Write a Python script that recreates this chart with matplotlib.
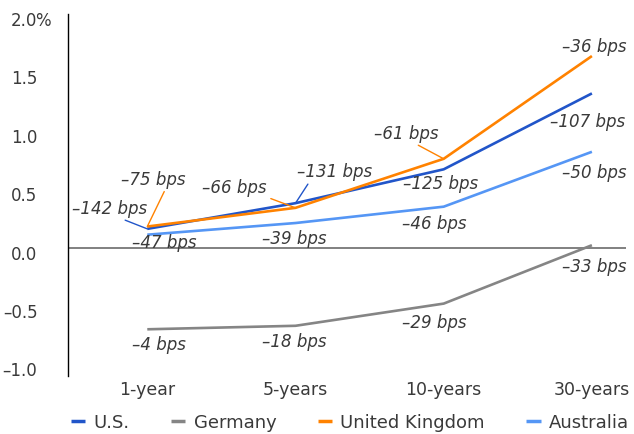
import numpy as np
import matplotlib
matplotlib.use('Agg')
import matplotlib.pyplot as plt
from matplotlib.transforms import ScaledTranslation

maturities = ['1-year', '5-years', '10-years', '30-years']

# yields (%)
us = [0.16, 0.38, 0.67, 1.32]
germany = [-0.70, -0.67, -0.48, 0.02]
uk = [0.18, 0.34, 0.76, 1.64]
australia = [0.11, 0.21, 0.35, 0.82]

# change labels (bps)
us_bps = [-142, -131, -125, -107]
germany_bps = [-4, -18, -29, -33]
uk_bps = [-75, -66, -61, -36]
australia_bps = [-47, -39, -46, -50]

y_ticks = [-1.0, -0.5, 0.0, 0.5, 1.0, 1.5, 2.0]

c_us = '#2155c9'
c_de = '#858585'
c_uk = '#ff8200'
c_au = '#5596f5'
txt = '#3a3a3a'

plt.rcParams['font.family'] = ['DejaVu Sans']

fig = plt.figure(figsize=(6.34, 4.35), dpi=100)
ax = fig.add_axes([68 / 634, 1 - 377 / 435, (626 - 68) / 634, (377 - 15) / 435])

x = np.arange(len(maturities))
series = [
    ('U.S.', us, us_bps, c_us),
    ('Germany', germany, germany_bps, c_de),
    ('United Kingdom', uk, uk_bps, c_uk),
    ('Australia', australia, australia_bps, c_au),
]
for name, vals, bps, col in series:
    ax.plot(x, vals, color=col, lw=1.9, label=name, solid_capstyle='butt')

ax.axhline(0, color='#808080', lw=1.4, zorder=1)

ax.set_xlim(-0.535, 3.23)
ax.set_ylim(-1.1, 2.0)
ax.set_xticks(x)
ax.set_xticklabels(maturities, fontsize=12.5, color=txt)
ax.set_yticks(y_ticks)
ax.set_yticklabels([('%.1f' % t).replace('-', '–') for t in y_ticks], fontsize=12, color=txt)
ax.tick_params(axis='both', length=0)
ax.tick_params(axis='x', pad=3)
ax.tick_params(axis='y', pad=22)
shift = ScaledTranslation(0, -4 / 100, fig.dpi_scale_trans)
for lab in ax.get_yticklabels():
    lab.set_transform(lab.get_transform() + shift)
    lab.set_verticalalignment('center_baseline')
# percent sign after the top tick label
ax.annotate('%', xy=(0, y_ticks[-1]), xycoords=('axes fraction', 'data'),
            xytext=(-22 * 100 / 72 - 2, -4), textcoords='offset pixels', ha='left',
            va='center_baseline', fontsize=12, color=txt)
for side in ['top', 'right', 'bottom']:
    ax.spines[side].set_visible(False)
ax.spines['left'].set_color('black')
ax.spines['left'].set_linewidth(1.0)

# label offsets in pixels (dx, dy), leader relpos or None
offsets = {
    'U.S.': [(-38, 21, (0.6, 0)), (39, 32, (0.18, 0)), (-3, -14, None), (-4, -28, None)],
    'Germany': [(12, -15, None), (-1, -15, None), (-9, -18, None), (2, -21, None)],
    'United Kingdom': [(6, 48, (0.7, 0)), (-61, 21, (0.95, 0)), (-37, 26, (0.58, 0)), (2, 10, None)],
    'Australia': [(17, -7, None), (-1, -15, None), (-9, -16, None), (2, -20, None)],
}
for name, vals, bps, col in series:
    for i, (v, b) in enumerate(zip(vals, bps)):
        dx, dy, rel = offsets[name][i]
        label = '–%d bps' % abs(b)
        kw = {}
        if rel is not None:
            kw['arrowprops'] = dict(arrowstyle='-', color=col, lw=1.0,
                                    relpos=rel, shrinkA=1, shrinkB=0)
        ax.annotate(label, xy=(i, v), xytext=(dx, dy), textcoords='offset pixels',
                    ha='center', va='center', fontsize=12, style='italic',
                    color=txt, **kw)

leg = fig.legend(loc='center', bbox_to_anchor=(0.552, 0.028), ncol=4, frameon=False,
                 fontsize=13, handlelength=0.8, handletextpad=0.45, columnspacing=2.3,
                 labelcolor=txt)
for h in leg.legend_handles:
    h.set_linewidth(2.5)

fig.savefig('out.png', dpi=100)
